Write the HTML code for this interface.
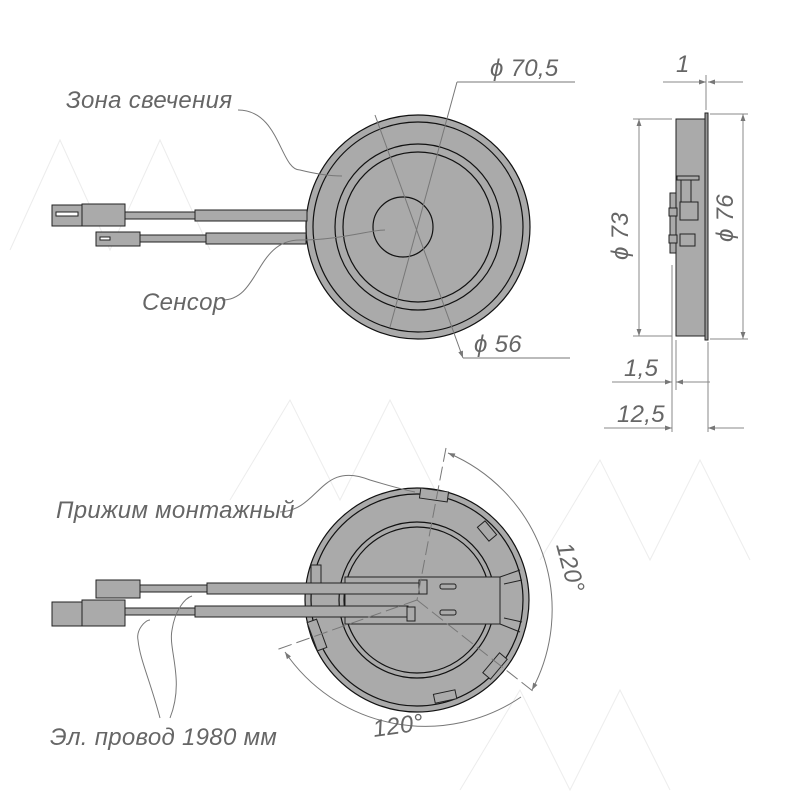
<!DOCTYPE html>
<html><head><meta charset="utf-8"><style>
html,body{margin:0;padding:0;background:#fff}
svg{display:block}
text{font-family:"Liberation Sans",sans-serif;font-style:italic;fill:#666;font-size:24px;letter-spacing:0.3px}
</style></head><body>
<svg width="800" height="800" viewBox="0 0 800 800" xmlns="http://www.w3.org/2000/svg">
<defs>
<marker id="a" viewBox="0 0 10 10" refX="10" refY="5" markerWidth="10" markerHeight="7" orient="auto-start-reverse" markerUnits="userSpaceOnUse"><path d="M0,1.5 L10,5 L0,8.5z" fill="#777"/></marker>
</defs>
<g stroke="#ececec" stroke-width="1" fill="none">
<path d="M10,250 L60,140 L110,250 L160,140 L210,250"/>
<path d="M230,500 L290,400 L340,500 L390,400 L440,500"/>
<path d="M540,560 L600,460 L650,560 L700,460 L750,560"/>
<path d="M460,790 L520,690 L570,790 L620,690 L670,790"/>
</g>

<!-- TOP VIEW -->
<g stroke="#111" stroke-width="1.2">
<circle cx="418" cy="227" r="112" fill="#aaa"/>
<circle cx="418" cy="227" r="105" fill="#aaa"/>
<circle cx="418" cy="227" r="83" fill="#aaa"/>
<circle cx="418" cy="227" r="75" fill="#aaa"/>
<circle cx="403" cy="227" r="30" fill="#aaa"/>
</g>
<g stroke="#222" stroke-width="1" fill="#aaa">
<rect x="195" y="210" width="112" height="11"/>
<rect x="206" y="233" width="100" height="11"/>
<rect x="125" y="212" width="70" height="7"/>
<rect x="140" y="235" width="66" height="7"/>
<rect x="52" y="205" width="30" height="21"/>
<rect x="82" y="204" width="43" height="22"/>
<rect x="96" y="232" width="44" height="14"/>
<rect x="56" y="212" width="22" height="4" fill="#fff"/>
<rect x="100" y="237" width="10" height="3" fill="#fff"/>
</g>
<g stroke="#777" stroke-width="1" fill="none">
<line x1="375" y1="115" x2="463" y2="358" marker-end="url(#a)"/>
<line x1="463" y1="358" x2="570" y2="358"/>
<line x1="457" y1="82" x2="390" y2="327"/>
<line x1="457" y1="82" x2="575" y2="82"/>
<path d="M238,110 C280,110 280,170 300,170 C320,175 335,176 342,176"/>
<path d="M222,300 C260,300 255,240 300,240 C340,240 370,230 385,230"/>
</g>
<text x="490" y="76">ϕ 70,5</text>
<text x="474" y="352">ϕ 56</text>
<text x="66" y="108">Зона свечения</text>
<text x="142" y="310">Сенсор</text>

<!-- SIDE VIEW -->
<rect x="676" y="119" width="29" height="217" fill="#aaa" stroke="#222"/>
<rect x="705" y="113" width="3" height="227" fill="#999" stroke="#222"/>
<g stroke="#222" fill="#aaa" stroke-width="1">
<rect x="677" y="176" width="22" height="4"/>
<rect x="681" y="180" width="10" height="25"/>
<rect x="680" y="202" width="18" height="18"/>
<rect x="680" y="234" width="15" height="12"/>
<rect x="670" y="193" width="6" height="60"/>
<rect x="669" y="208" width="8" height="8"/>
<rect x="669" y="235" width="8" height="8"/>
</g>
<g stroke="#888" stroke-width="1" fill="none">
<line x1="633" y1="119" x2="672" y2="119"/>
<line x1="633" y1="336" x2="672" y2="336"/>
<line x1="710" y1="114" x2="748" y2="114"/>
<line x1="710" y1="339" x2="748" y2="339"/>
<line x1="639" y1="119" x2="639" y2="336" marker-start="url(#a)" marker-end="url(#a)"/>
<line x1="743" y1="114" x2="743" y2="339" marker-start="url(#a)" marker-end="url(#a)"/>
<line x1="706" y1="75" x2="706" y2="110"/>
<line x1="663" y1="82" x2="706" y2="82" marker-end="url(#a)"/>
<line x1="743" y1="82" x2="708" y2="82" marker-end="url(#a)"/>
<line x1="672" y1="265" x2="672" y2="432"/>
<line x1="676" y1="340" x2="676" y2="390"/>
<line x1="708" y1="342" x2="708" y2="432"/>
<line x1="612" y1="382" x2="672" y2="382" marker-end="url(#a)"/>
<line x1="710" y1="382" x2="676" y2="382" marker-end="url(#a)"/>
<line x1="604" y1="428" x2="672" y2="428" marker-end="url(#a)"/>
<line x1="744" y1="428" x2="708" y2="428" marker-end="url(#a)"/>
</g>
<text x="676" y="72">1</text>
<text x="628" y="236" transform="rotate(-90 628 236)" text-anchor="middle">ϕ 73</text>
<text x="733" y="218" transform="rotate(-90 733 218)" text-anchor="middle">ϕ 76</text>
<text x="624" y="376">1,5</text>
<text x="617" y="422">12,5</text>

<!-- BOTTOM VIEW -->
<g stroke="#111" stroke-width="1.2" fill="#aaa">
<circle cx="417" cy="600" r="112"/>
<circle cx="417" cy="600" r="106"/>
<circle cx="417" cy="600" r="78"/>
<circle cx="417" cy="600" r="73"/>
</g>
<g stroke="#222" fill="#aaa" stroke-width="1">
<path d="M345,577 L500,577 L500,624 L345,624z"/>
<path d="M500,577 L520,570 M500,624 L520,632 M504,584 L522,580 M504,618 L522,622" fill="none"/>
<rect x="420" y="490" width="28" height="10" transform="rotate(8 434 495)"/>
<rect x="482" y="522" width="10" height="18" transform="rotate(-40 487 531)"/>
<rect x="311" y="565" width="10" height="20"/>
<rect x="312" y="620" width="10" height="30" transform="rotate(-20 317 635)"/>
<rect x="490" y="653" width="10" height="26" transform="rotate(40 495 666)"/>
<rect x="434" y="692" width="22" height="9" transform="rotate(-12 445 696)"/>
<rect x="440" y="584" width="16" height="5" rx="2"/>
<rect x="440" y="610" width="16" height="5" rx="2"/>
<rect x="207" y="583" width="213" height="11"/>
<rect x="195" y="606" width="213" height="11"/>
<rect x="140" y="585" width="67" height="7"/>
<rect x="125" y="608" width="70" height="7"/>
<rect x="96" y="580" width="44" height="18"/>
<rect x="52" y="602" width="30" height="24"/>
<rect x="82" y="600" width="43" height="26"/>
<rect x="419" y="580" width="8" height="14"/>
<rect x="407" y="607" width="8" height="14"/>
</g>
<g stroke="#777" stroke-width="1" fill="none">
<line x1="446" y1="448" x2="417" y2="600" stroke-dasharray="14,5"/>
<line x1="417" y1="600" x2="534" y2="692" stroke-dasharray="14,5"/>
<line x1="417" y1="600" x2="276" y2="650" stroke-dasharray="14,5"/>
<path d="M448,453 A170,170 0 0 1 532,690" marker-start="url(#a)" marker-end="url(#a)"/>
<path d="M285,652 A170,170 0 0 0 521,697" marker-start="url(#a)"/>
<path d="M280,512 C320,510 320,460 370,480 C390,486 405,490 415,492"/>
<path d="M160,718 C150,680 140,660 138,640 C136,630 145,620 150,620"/>
<path d="M170,718 C185,680 168,650 172,630 C175,610 185,598 192,596"/>
</g>
<text x="56" y="518">Прижим монтажный</text>
<text x="50" y="745">Эл. провод 1980 мм</text>
<text x="374" y="737" transform="rotate(-8 374 737)">120°</text>
<text x="556" y="545" transform="rotate(75 556 545)">120°</text>
</svg>
</body></html>
